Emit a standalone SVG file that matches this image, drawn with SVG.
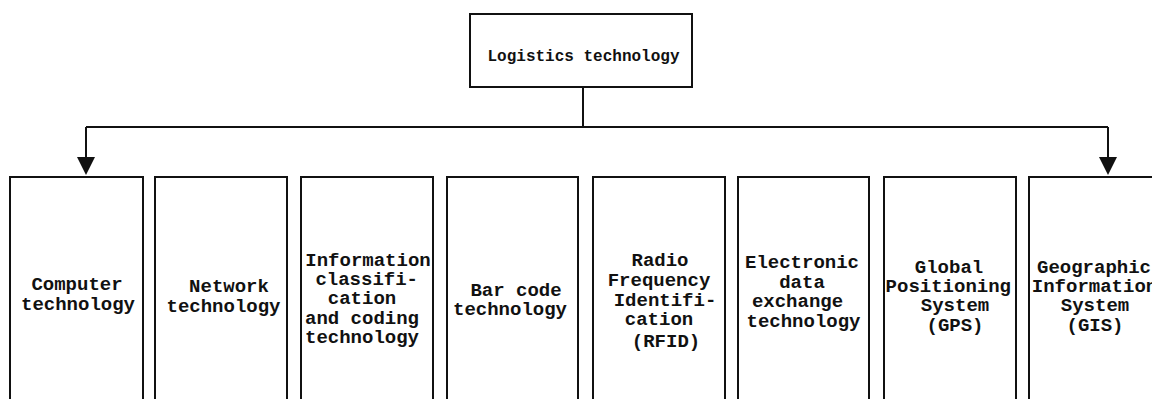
<svg xmlns="http://www.w3.org/2000/svg" width="1152" height="399" viewBox="0 0 1152 399">
<style>
.box{fill:#fff;stroke:#111;stroke-width:2}
.conn{fill:none;stroke:#111;stroke-width:2}
.t{font-family:"Liberation Mono","Courier New",monospace;font-weight:bold;fill:#111;text-anchor:middle;font-size:19px}
.tt{font-family:"Liberation Mono","Courier New",monospace;font-weight:bold;fill:#111;text-anchor:middle;font-size:16px}
</style>
<defs>
<marker id="arr" markerUnits="userSpaceOnUse" markerWidth="20" markerHeight="20" viewBox="0 0 20 20" refX="10" refY="18" orient="auto-start-reverse">
<path d="M1,0 L19,0 L10,18 Z" fill="#111"/>
</marker>
</defs>
<rect width="1152" height="399" fill="#fff"/>
<g id="connectors">
<path class="conn" d="M583,87 V127"/>
<path class="conn" d="M86,127 H1108"/>
<path class="conn" d="M86,127 V158"/>
<path class="conn" d="M1108,127 V158"/>
<path d="M77,157 L95,157 L86,175 Z" fill="#111"/>
<path d="M1099,157 L1117,157 L1108,175 Z" fill="#111"/>
</g>
<g id="n0"><rect class="box" x="470" y="14" width="222" height="73"/><text class="tt" x="583.5" y="61">Logistics technology</text></g>
<g id="n1"><rect class="box" x="10" y="177" width="133" height="245"/><text class="t"><tspan x="77" y="290">Computer</tspan><tspan x="78" y="310">technology</tspan></text></g>
<g id="n2"><rect class="box" x="155" y="177" width="132" height="245"/><text class="t"><tspan x="229" y="292">Network</tspan><tspan x="223.5" y="312">technology</tspan></text></g>
<g id="n3"><rect class="box" x="301" y="177" width="132" height="245"/><text class="t"><tspan x="368" y="266">Information</tspan><tspan x="366.7" y="285">classifi-</tspan><tspan x="362" y="304">cation</tspan><tspan x="362" y="324">and coding</tspan><tspan x="362" y="343">technology</tspan></text></g>
<g id="n4"><rect class="box" x="447" y="177" width="131" height="245"/><text class="t"><tspan x="516" y="296">Bar code</tspan><tspan x="510" y="315">technology</tspan></text></g>
<g id="n5"><rect class="box" x="593" y="177" width="132" height="245"/><text class="t"><tspan x="660" y="266">Radio</tspan><tspan x="659" y="286">Frequency</tspan><tspan x="665" y="306">Identifi-</tspan><tspan x="659" y="325">cation</tspan><tspan x="666" y="347">(RFID)</tspan></text></g>
<g id="n6"><rect class="box" x="738" y="177" width="131" height="245"/><text class="t"><tspan x="802" y="268">Electronic</tspan><tspan x="802" y="288">data</tspan><tspan x="797.5" y="307">exchange</tspan><tspan x="803.5" y="327">technology</tspan></text></g>
<g id="n7"><rect class="box" x="884" y="177" width="132" height="245"/><text class="t"><tspan x="949" y="273">Global</tspan><tspan x="948.3" y="292">Positioning</tspan><tspan x="955" y="311">System</tspan><tspan x="955" y="331">(GPS)</tspan></text></g>
<g id="n8"><rect class="box" x="1029" y="177" width="132" height="245"/><text class="t"><tspan x="1094" y="273">Geographic</tspan><tspan x="1094.5" y="292">Information</tspan><tspan x="1095" y="311">System</tspan><tspan x="1095" y="331">(GIS)</tspan></text></g>
</svg>
